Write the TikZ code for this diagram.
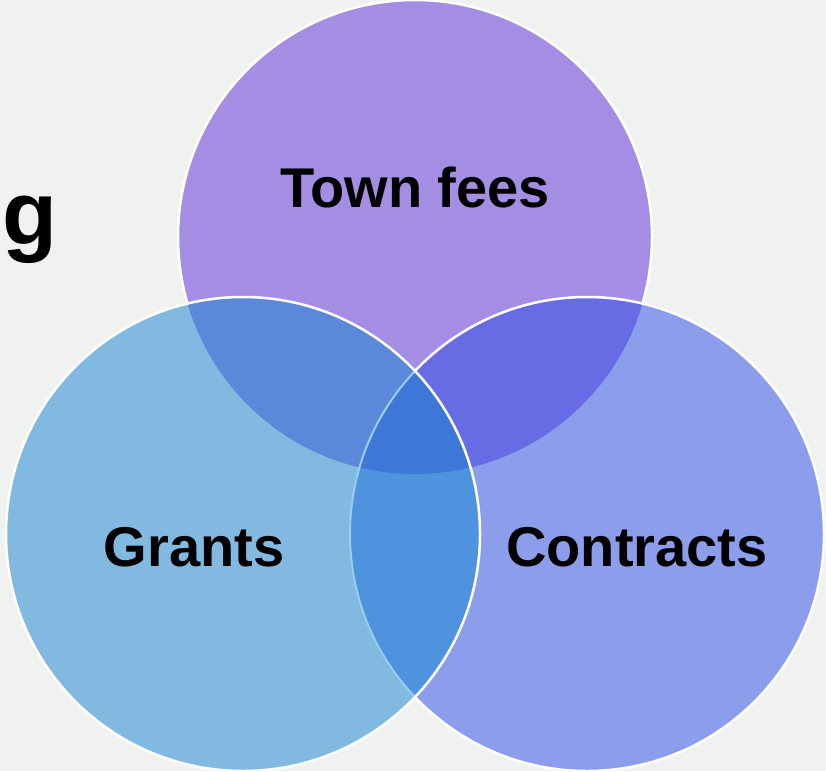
\documentclass[tikz,border=0pt]{standalone}
\usepackage{fontspec}
\setmainfont{Liberation Sans}
\usetikzlibrary{positioning}
\definecolor{bgcol}{HTML}{F0F2F0}
\definecolor{topcol}{HTML}{A48EE4}
\definecolor{leftcol}{HTML}{82B9E0}
\definecolor{rightcol}{HTML}{8C9DEB}
\definecolor{tlcol}{HTML}{5B88D8}
\definecolor{trcol}{HTML}{676CE4}
\definecolor{lrcol}{HTML}{4F93DE}
\definecolor{midcol}{HTML}{3D78D8}
\definecolor{rimcol}{HTML}{9ACDEC}
\tikzset
{
    rim/.style     = {draw=white, line width=2.5pt},
    setname/.style = {font=\bfseries\fontsize{56}{60}\selectfont, text=black, inner sep=0pt},
    heading/.style = {font=\bfseries\fontsize{90}{100}\selectfont, text=black, inner sep=0pt}
}

\begin{document}
\begin{tikzpicture}[x=1pt, y=-1pt]
    \fill [bgcol] (0,0) rectangle (826,771);
    \useasboundingbox (0,0) rectangle (826,771);
    \def\rad{237}
    \coordinate (T) at (415,237);
    \coordinate (L) at (243,534);
    \coordinate (R) at (587,534);

    % title, cut off by the page
    \node [heading, anchor=base east] (title) at (58,244) {ng};

    % top set
    \fill [topcol] (T) circle [radius=\rad];
    \draw [rim] (T) circle [radius=\rad];

    % right set
    \fill [rightcol] (R) circle [radius=\rad];
    \begin{scope}
        \clip (T) circle [radius=\rad];
        \fill [trcol] (R) circle [radius=\rad];
    \end{scope}
    \draw [rim] (R) circle [radius=\rad];

    % left set
    \fill [leftcol] (L) circle [radius=\rad];
    \begin{scope}
        \clip (L) circle [radius=\rad];
        \fill [tlcol] (T) circle [radius=\rad];
        \fill [lrcol] (R) circle [radius=\rad];
        \clip (T) circle [radius=\rad];
        \fill [midcol] (R) circle [radius=\rad];
    \end{scope}
    \begin{scope}
        \clip (L) circle [radius=\rad];
        \draw [rim, draw=rimcol, line width=2pt] (R) circle [radius=\rad];
    \end{scope}
    \draw [rim] (L) circle [radius=\rad];

    \node [setname] (fees) at (415,187) {Town fees};
    \node [setname] (grants) at (194,547) {Grants};
    \node [setname] (contracts) at (637,547) {Contracts};
\end{tikzpicture}
\end{document}
